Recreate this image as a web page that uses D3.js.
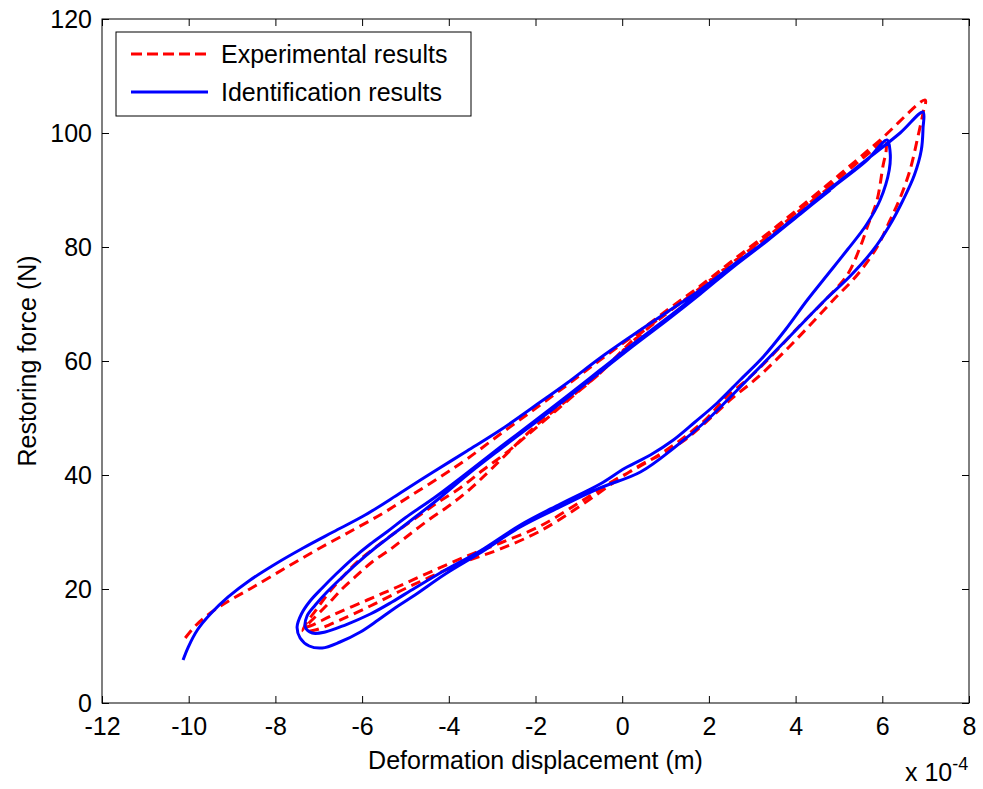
<!DOCTYPE html>
<html lang="en">
<head>
  <meta charset="UTF-8">
  <title>Restoring force vs deformation displacement</title>
  <style>
    body { margin: 0; background: #fff; }
    text { font-family: "Liberation Sans", Arial, sans-serif; fill: #000; }
  </style>
</head>
<body>
  <script src="https://d3js.org/d3.v7.min.js"></script>
  <script>
    // x values in units of 1e-4 m, y in N
    const xTicks = [-12, -10, -8, -6, -4, -2, 0, 2, 4, 6, 8];
    const yTicks = [0, 20, 40, 60, 80, 100, 120];
    const seriesNames = ["Experimental results", "Identification results"];

    // experimental (red dashed)
    const experimental = [
      [-10.08, 11.40], [-9.85, 13.51], [-9.50, 15.79], [-9.04, 18.07], [-8.51, 20.35], [-7.73, 23.86],
      [-6.97, 27.19], [-6.21, 30.35], [-5.51, 33.33], [-4.89, 36.32], [-4.20, 39.65], [-3.58, 42.81],
      [-2.81, 47.19], [-2.05, 51.40], [-1.27, 55.79], [-0.51, 60.18], [0.25, 64.39], [1.04, 68.95],
      [1.80, 73.16], [2.56, 77.72], [3.34, 82.28], [4.11, 87.02], [5.03, 92.81], [5.95, 98.77],
      [6.99, 105.79],
      // outer descent + lower branch
      [6.94, 103.51], [6.83, 99.65], [6.64, 93.51], [6.41, 88.60], [6.16, 84.39], [5.88, 80.00],
      [5.42, 75.09], [4.87, 70.70], [4.29, 65.96], [3.71, 61.40], [3.11, 57.02], [2.49, 53.16],
      [1.91, 49.12], [1.41, 45.96], [0.88, 43.51], [0.42, 41.75], [-0.21, 38.60], [-0.97, 34.56],
      [-1.89, 30.18], [-2.81, 27.02], [-3.58, 24.91], [-4.43, 22.11], [-5.12, 19.65], [-5.81, 17.02],
      [-6.51, 14.56], [-7.08, 12.81], [-7.36, 12.63],
      // middle branch, first pass
      [-7.27, 14.21], [-7.06, 16.32], [-6.81, 18.95], [-6.51, 21.58], [-6.11, 24.74], [-5.65, 27.54],
      [-5.19, 30.18], [-4.73, 32.63], [-4.27, 35.09], [-3.74, 37.72], [-3.21, 40.88], [-2.65, 44.04],
      [-2.05, 47.89], [-1.27, 52.98], [-0.51, 57.89], [0.25, 63.68], [1.04, 68.60], [1.80, 72.98],
      [2.56, 77.54], [3.34, 81.93], [4.11, 86.67], [5.03, 92.28], [5.72, 96.67], [6.07, 98.77],
      // inner descent + lower branch
      [6.09, 97.02], [6.02, 94.39], [5.88, 88.25], [5.67, 83.86], [5.49, 80.00], [5.19, 75.09],
      [4.64, 70.35], [4.11, 66.32], [3.53, 61.58], [2.95, 57.19], [2.38, 53.51], [1.96, 50.00],
      [1.22, 45.44], [0.42, 41.58], [-0.21, 38.95], [-0.97, 35.26], [-1.89, 31.05], [-2.81, 28.07],
      [-3.58, 25.79], [-4.43, 22.98], [-5.19, 20.35], [-5.88, 18.07], [-6.67, 15.44], [-7.20, 13.51],
      [-7.31, 13.33],
      // middle branch, second pass
      [-7.13, 14.74], [-6.81, 17.19], [-6.44, 20.18], [-6.11, 22.46], [-5.77, 24.74], [-5.40, 26.67],
      [-5.01, 28.95], [-4.50, 31.93], [-3.97, 34.74], [-3.51, 37.54], [-3.04, 40.88], [-2.05, 48.25],
      [-1.27, 53.16], [-0.51, 57.89], [0.25, 63.51], [1.04, 68.42], [1.80, 72.81], [2.56, 77.37],
      [3.34, 81.75], [4.11, 86.49], [4.80, 90.53]
    ];

    // identification (blue solid)
    const identification = [
      [-10.13, 7.54], [-10.01, 9.82], [-9.80, 12.81], [-9.50, 15.61], [-9.09, 18.60], [-8.58, 21.58],
      [-8.00, 24.39], [-7.36, 27.19], [-6.67, 30.00], [-5.93, 32.98], [-5.12, 36.84], [-4.36, 40.53],
      [-3.58, 44.21], [-2.81, 47.89], [-2.05, 51.93], [-1.27, 56.14], [-0.51, 60.53], [0.25, 64.56],
      [1.04, 68.60], [1.80, 72.46], [2.56, 76.84], [3.34, 81.23], [4.11, 85.96], [4.87, 90.70],
      [5.63, 95.26], [6.41, 100.00], [6.94, 103.68],
      // outer descent + lower branch
      [6.94, 100.88], [6.90, 97.02], [6.74, 92.63], [6.48, 88.25], [6.16, 83.68], [5.79, 79.47],
      [5.26, 74.91], [4.68, 70.70], [3.83, 64.04], [2.95, 57.19], [2.45, 53.33], [1.96, 49.65],
      [1.22, 44.91], [0.42, 40.53], [-0.51, 37.72], [-1.43, 34.39], [-2.35, 30.88], [-3.28, 26.32],
      [-4.08, 22.63], [-4.78, 18.95], [-5.24, 16.67], [-5.63, 14.56], [-6.04, 12.46], [-6.51, 10.70],
      [-6.92, 9.65], [-7.22, 10.00], [-7.43, 11.40], [-7.50, 13.33],
      // middle branch, first pass
      [-7.40, 15.61], [-7.20, 17.89], [-6.92, 20.18], [-6.60, 22.63], [-6.23, 25.26], [-5.81, 27.89],
      [-5.40, 30.18], [-5.01, 32.46], [-4.31, 36.14], [-3.58, 40.35], [-2.81, 44.91], [-2.05, 49.30],
      [-1.27, 53.86], [-0.51, 58.42], [0.25, 62.98], [1.04, 67.54], [1.80, 72.11], [2.56, 76.67],
      [3.34, 81.23], [4.11, 85.96], [4.87, 90.53], [5.63, 95.09], [6.11, 98.77],
      // inner descent + lower branch
      [6.18, 96.67], [6.16, 93.51], [5.95, 88.25], [5.63, 83.86], [5.19, 79.47], [4.73, 75.09],
      [4.27, 70.70], [3.76, 65.44], [3.25, 60.70], [2.72, 56.67], [2.19, 52.63], [1.68, 49.30],
      [1.18, 46.14], [0.65, 43.51], [0.07, 41.23], [-0.51, 38.42], [-1.43, 34.91], [-2.35, 31.23],
      [-3.28, 26.67], [-4.08, 23.33], [-4.78, 20.18], [-5.31, 17.72], [-5.81, 15.61], [-6.39, 13.68],
      [-6.85, 12.46], [-7.15, 12.28], [-7.31, 13.33], [-7.27, 15.26],
      // middle branch, second pass
      [-7.08, 17.19], [-6.81, 19.47], [-6.48, 21.93], [-6.11, 24.56], [-5.70, 27.19], [-5.28, 29.65],
      [-4.89, 31.93], [-4.24, 35.79], [-3.58, 40.00], [-2.81, 44.56], [-2.05, 48.95], [-1.27, 53.51],
      [-0.51, 58.07], [0.25, 62.63], [1.04, 67.19], [1.80, 71.75], [2.56, 76.49], [3.34, 81.05],
      [4.11, 85.79], [4.80, 90.00]
    ];

    const svgWidth = 983, svgHeight = 789;
    const margin = { top: 19, right: 14, bottom: 86, left: 102 };
    const width = svgWidth - margin.left - margin.right,
      height = svgHeight - margin.top - margin.bottom;

    const xScale = d3.scaleLinear().domain([-12, 8]).range([0, width]);
    const yScale = d3.scaleLinear().domain([0, 120]).range([height, 0]);

    const svg = d3.select('body').append('svg')
      .attr('width', svgWidth)
      .attr('height', svgHeight);

    const g = svg.append('g')
      .attr('transform', `translate(${margin.left},${margin.top})`);

    const tickLen = 7;
    const plain = d => String(d); // hyphen minus, like the original

    // axes (ticks inward, box style)
    g.append('g')
      .attr('transform', `translate(0,${height})`)
      .call(d3.axisBottom(xScale).tickValues(xTicks).tickSizeInner(-tickLen).tickSizeOuter(0).tickPadding(14).tickFormat(plain))
      .call(a => a.select('.domain').remove())
      .selectAll('text').style('font-size', '25px');

    g.append('g')
      .call(d3.axisLeft(yScale).tickValues(yTicks).tickSizeInner(-tickLen).tickSizeOuter(0).tickPadding(10).tickFormat(plain))
      .call(a => a.select('.domain').remove())
      .selectAll('text').style('font-size', '25px');

    g.append('g')
      .call(d3.axisTop(xScale).tickValues(xTicks).tickSizeInner(-tickLen).tickSizeOuter(0).tickFormat(''))
      .call(a => a.select('.domain').remove());

    g.append('g')
      .attr('transform', `translate(${width},0)`)
      .call(d3.axisRight(yScale).tickValues(yTicks).tickSizeInner(-tickLen).tickSizeOuter(0).tickFormat(''))
      .call(a => a.select('.domain').remove());

    g.selectAll('.tick line').attr('stroke', '#000');

    g.append('rect')
      .attr('width', width)
      .attr('height', height)
      .attr('fill', 'none')
      .attr('stroke', '#000')
      .attr('stroke-width', 1);

    // curves
    const line = d3.line()
      .x(d => xScale(d[0]))
      .y(d => yScale(d[1]))
      .curve(d3.curveCatmullRom.alpha(0.5));

    g.append('path')
      .datum(experimental)
      .attr('d', line)
      .attr('fill', 'none')
      .attr('stroke', '#ff0000')
      .attr('stroke-width', 3)
      .attr('stroke-dasharray', '10,6');

    g.append('path')
      .datum(identification)
      .attr('d', line)
      .attr('fill', 'none')
      .attr('stroke', '#0000ff')
      .attr('stroke-width', 3)
      .attr('stroke-linejoin', 'round');

    // legend
    const legend = svg.append('g').attr('transform', 'translate(116,32)');
    legend.append('rect')
      .attr('width', 355)
      .attr('height', 84)
      .attr('fill', '#fff')
      .attr('stroke', '#000');

    const legendStyles = [
      { color: '#ff0000', dash: '11,5' },
      { color: '#0000ff', dash: null }
    ];
    seriesNames.forEach((name, i) => {
      const y = 22 + i * 38;
      legend.append('line')
        .attr('x1', 15).attr('x2', 92)
        .attr('y1', y).attr('y2', y)
        .attr('stroke', legendStyles[i].color)
        .attr('stroke-width', 3)
        .attr('stroke-dasharray', legendStyles[i].dash);
      legend.append('text')
        .attr('x', 105)
        .attr('y', y)
        .attr('dy', '0.35em')
        .style('font-size', '25px')
        .text(name);
    });

    // axis labels
    svg.append('text')
      .attr('x', margin.left + width / 2)
      .attr('y', 769)
      .attr('text-anchor', 'middle')
      .style('font-size', '25px')
      .text('Deformation displacement (m)');

    svg.append('text')
      .attr('transform', `translate(36,${margin.top + height / 2}) rotate(-90)`)
      .attr('text-anchor', 'middle')
      .style('font-size', '25px')
      .text('Restoring force (N)');

    const mult = svg.append('text')
      .attr('x', 905)
      .attr('y', 781)
      .style('font-size', '25px');
    mult.append('tspan').text('x 10');
    mult.append('tspan')
      .attr('dy', -11)
      .style('font-size', '18px')
      .text('-4');
  </script>
</body>
</html>
